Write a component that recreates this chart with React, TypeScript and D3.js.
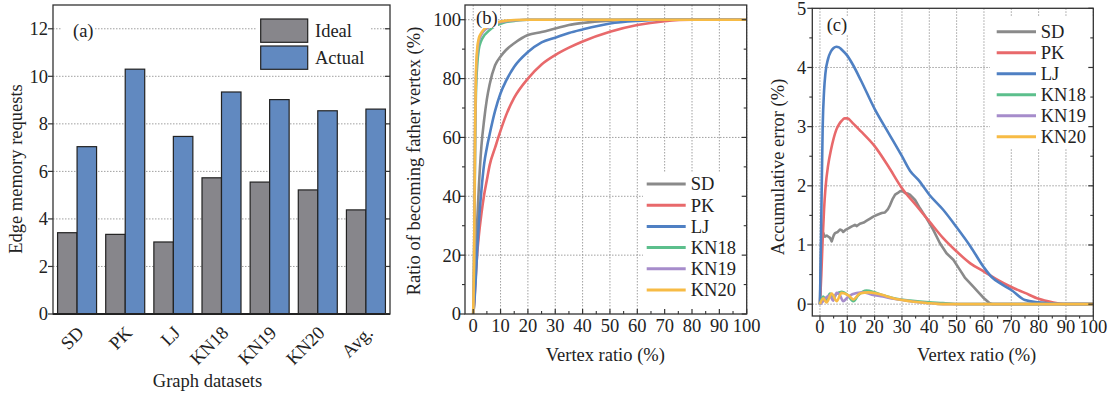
import React from "react";
import * as d3 from "d3";

// ---------- Panel (a) data ----------
const categories = ["SD", "PK", "LJ", "KN18", "KN19", "KN20", "Avg."];
const idealValues = [3.42, 3.35, 3.03, 5.73, 5.55, 5.22, 4.38];
const actualValues = [7.04, 10.3, 7.47, 9.34, 9.02, 8.55, 8.62];
const seriesA = ["Ideal", "Actual"];
const ticksA = [0, 2, 4, 6, 8, 10, 12];

// ---------- Panel (b) data ----------
const bX = [0, 0.3, 0.5, 0.7, 1, 1.5, 2, 3, 4, 5, 6, 8, 10, 12, 15, 20, 25, 30, 35, 40, 50, 60, 70, 80, 90, 100];
const bSD = [0, 4, 8, 12, 19, 32, 42, 57, 66, 73, 78, 84.5, 87.5, 89.7, 92, 94.8, 95.8, 97, 98.2, 98.9, 99.7, 100, 100, 100, 100, 100];
const bPK = [0, 3, 6, 9, 14, 21, 26, 34, 40.5, 45.5, 50.5, 56.5, 62.3, 67.5, 73.5, 80, 84.8, 88, 90.5, 92.6, 95.9, 98.2, 99.5, 100, 100, 100];
const bLJ = [0, 2.5, 5, 8, 13, 22, 30, 42, 51, 56.5, 61, 69, 75, 79.2, 84, 89, 92.3, 93.9, 95.5, 96.7, 98.7, 99.6, 100, 100, 100, 100];
const bKN18 = [0, 15, 35, 58, 75, 85, 89.7, 93, 94.6, 95.6, 96.5, 97.8, 98.6, 99.2, 99.6, 100, 100, 100, 100, 100, 100, 100, 100, 100, 100, 100];
const bKN19 = [0, 17, 38, 62, 80, 89, 92.5, 95, 96.3, 97, 97.6, 98.5, 99.1, 99.5, 99.8, 100, 100, 100, 100, 100, 100, 100, 100, 100, 100, 100];
const bKN20 = [0, 18, 40, 64, 82, 90.5, 93.5, 95.6, 96.8, 97.5, 98.1, 98.9, 99.4, 99.7, 99.9, 100, 100, 100, 100, 100, 100, 100, 100, 100, 100, 100];

// ---------- Panel (c) data ----------
const cSDx = [0, 0.6, 1.2, 1.8, 2.5, 3.1, 3.7, 4.3, 5, 5.5, 6.5, 7.3, 8, 8.5, 9.5, 10.4, 11.5, 12.8, 13.5, 14.6, 16, 17.1, 18.5, 19.5, 21, 22.6, 23.8, 24.8, 25.6, 26.5, 27.5, 28.5, 29.3, 30.2, 31.1, 32, 32.9, 34.8, 36.6, 39, 41.5, 43.9, 46.3, 48.8, 51.2, 53, 56, 58, 60, 62, 63, 100];
const cSDy = [0, 1.28, 1.2, 1.14, 1.16, 1.14, 1.12, 1.06, 1.16, 1.2, 1.22, 1.26, 1.25, 1.22, 1.26, 1.28, 1.31, 1.34, 1.32, 1.36, 1.38, 1.41, 1.45, 1.48, 1.51, 1.54, 1.55, 1.6, 1.67, 1.77, 1.85, 1.88, 1.91, 1.91, 1.88, 1.87, 1.85, 1.76, 1.62, 1.45, 1.25, 1.03, 0.86, 0.75, 0.58, 0.45, 0.3, 0.2, 0.1, 0.02, 0, 0];
const cPKx = [0, 0.5, 1, 1.5, 2, 3, 4, 5, 6, 7, 8, 9, 10, 12, 15, 20, 25, 30, 35, 40, 45, 50, 55, 60, 65, 70, 75, 80, 85, 88, 90, 100];
const cPKy = [0, 0.5, 1.1, 1.6, 1.95, 2.35, 2.6, 2.8, 2.95, 3.04, 3.1, 3.14, 3.14, 3.06, 2.92, 2.67, 2.33, 1.96, 1.68, 1.4, 1.12, 0.89, 0.69, 0.55, 0.41, 0.29, 0.19, 0.09, 0.03, 0.005, 0, 0];
const cLJx = [0, 0.5, 1, 1.5, 2, 3, 4, 5, 6, 7, 8, 10, 12, 15, 20, 25, 30, 33, 36, 40, 45, 50, 55, 60, 63, 66, 70, 75, 80, 85, 90, 100];
const cLJy = [0, 1.5, 3.0, 3.6, 3.9, 4.15, 4.27, 4.33, 4.35, 4.34, 4.3, 4.2, 4.05, 3.78, 3.3, 2.9, 2.5, 2.25, 2.1, 1.85, 1.6, 1.3, 0.98, 0.62, 0.45, 0.35, 0.24, 0.07, 0.03, 0.01, 0, 0];
const cKN18x = [0, 1.2, 2.2, 3.7, 5, 6, 7.9, 10, 12.2, 14, 17, 20, 23, 27, 33, 40, 45, 51, 100];
const cKN18y = [0, 0.13, 0.06, 0.18, 0.12, 0.17, 0.21, 0.16, 0.05, 0.15, 0.23, 0.2, 0.15, 0.1, 0.06, 0.03, 0.02, 0, 0];
const cKN19x = [0, 1.2, 2.4, 3.7, 4.8, 6.1, 7.2, 8.5, 10.4, 13.4, 15.9, 19, 23, 27, 33, 39, 45, 100];
const cKN19y = [0, 0.05, 0.12, 0.14, 0.06, 0.19, 0.16, 0.05, 0.13, 0.19, 0.2, 0.16, 0.13, 0.09, 0.05, 0.02, 0, 0];
const cKN20x = [0, 1.2, 2.4, 4.3, 6.1, 7.9, 10.4, 12.2, 14.6, 17.7, 20.7, 24, 26.8, 33, 39, 45, 100];
const cKN20y = [0, 0.1, 0.03, 0.18, 0.05, 0.19, 0.15, 0.08, 0.18, 0.2, 0.18, 0.14, 0.1, 0.05, 0.02, 0, 0];

const lineNames = ["SD", "PK", "LJ", "KN18", "KN19", "KN20"];
const xTicksBC = [0, 10, 20, 30, 40, 50, 60, 70, 80, 90, 100];
const xMinorBC = [5, 15, 25, 35, 45, 55, 65, 75, 85, 95];
const yTicksB = [0, 20, 40, 60, 80, 100];
const yMinorB = [10, 30, 50, 70, 90];
const yTicksC = [0, 1, 2, 3, 4, 5];
const yMinorC = [0.5, 1.5, 2.5, 3.5, 4.5];

const COLORS: Record<string, string> = {
  SD: "#8a8a8a",
  PK: "#e8696b",
  LJ: "#4f80c3",
  KN18: "#5cbf8c",
  KN19: "#a68ccb",
  KN20: "#f7bb45",
};
const BAR_COLORS: Record<string, string> = { Ideal: "#87868b", Actual: "#6189c0" };

const FONT = "Liberation Serif, Times New Roman, Times, serif";
const FS = 18.5;
const FRAME = "#333";
const GRID = "#a0a0a0";

function zip(xs: number[], ys: number[]): [number, number][] {
  return xs.map((x, i) => [x, ys[i]]);
}

export default function App() {
  // ---------- Panel (a) ----------
  const aL = 53, aR = 390, aT = 5, aB = 314;
  const xA = d3.scaleBand<string>().domain(categories).range([aL, aR]).paddingInner(0.19).paddingOuter(0.095);
  const xAin = d3.scaleBand<string>().domain(seriesA).range([0, xA.bandwidth()]);
  const yA = d3.scaleLinear().domain([0, 13]).range([aB, aT]);

  // ---------- Panel (b) ----------
  const bL = 465, bR = 746.7, bT = 5, bBt = 314;
  const xB = d3.scaleLinear().domain([-3, 100]).range([bL, bR]);
  const yB = d3.scaleLinear().domain([0, 105]).range([bBt, bT]);
  const lineB = d3.line<[number, number]>().x((d) => xB(d[0])).y((d) => yB(d[1])).curve(d3.curveMonotoneX);
  const bSeries: Record<string, number[]> = { SD: bSD, PK: bPK, LJ: bLJ, KN18: bKN18, KN19: bKN19, KN20: bKN20 };

  // ---------- Panel (c) ----------
  const cL = 812.3, cR = 1093.3, cT = 8.3, cBt = 316;
  const xC = d3.scaleLinear().domain([-2.8, 100]).range([cL, cR]);
  const yC = d3.scaleLinear().domain([-0.2, 5]).range([cBt, cT]);
  const lineCm = d3.line<[number, number]>().x((d) => xC(d[0])).y((d) => yC(d[1])).curve(d3.curveMonotoneX);
  const lineCl = d3.line<[number, number]>().x((d) => xC(d[0])).y((d) => yC(d[1]));
  const cSeries: Record<string, [number, number][]> = {
    SD: zip(cSDx, cSDy),
    PK: zip(cPKx, cPKy),
    LJ: zip(cLJx, cLJy),
    KN18: zip(cKN18x, cKN18y),
    KN19: zip(cKN19x, cKN19y),
    KN20: zip(cKN20x, cKN20y),
  };

  const txt = { style: { fontFamily: FONT, fontSize: FS }, fill: "#222" } as const;

  return (
    <svg width={1117} height={396} style={{ position: "absolute", left: 0, top: 0, background: "#fff", fontFamily: FONT }}>
      <defs>
        <clipPath id="clipB"><rect x={bL} y={bT} width={bR - bL} height={bBt - bT} /></clipPath>
        <clipPath id="clipC"><rect x={cL} y={cT} width={cR - cL} height={cBt - cT} /></clipPath>
      </defs>
      <rect width={1117} height={396} fill="#fff" />

      {/* ================= Panel (a) ================= */}
      <g>
        {ticksA.filter((t) => t > 0).map((t) => (
          <line key={"ga" + t} x1={aL} x2={aR} y1={yA(t)} y2={yA(t)} stroke={GRID} strokeWidth={1} strokeDasharray="1.5,1.5" />
        ))}
        <rect x={257} y={14} width={113} height={58} fill="#fff" />
        <rect x={62} y={20} width={33} height={20} fill="#fff" />
        {categories.map((c, i) => (
          <g key={"bars" + c}>
            <rect x={(xA(c) as number) + (xAin("Ideal") as number)} y={yA(idealValues[i])} width={xAin.bandwidth()} height={yA(0) - yA(idealValues[i])} fill={BAR_COLORS.Ideal} stroke="#222" strokeWidth={1.2} />
            <rect x={(xA(c) as number) + (xAin("Actual") as number)} y={yA(actualValues[i])} width={xAin.bandwidth()} height={yA(0) - yA(actualValues[i])} fill={BAR_COLORS.Actual} stroke="#222" strokeWidth={1.2} />
          </g>
        ))}
        <rect x={aL} y={aT} width={aR - aL} height={aB - aT} fill="none" stroke={FRAME} strokeWidth={1.3} />
        <line x1={aL} x2={aR} y1={aB} y2={aB} stroke="#222" strokeWidth={2} />
        {ticksA.map((t) => (
          <g key={"ta" + t}>
            <line x1={aL - 5} x2={aL} y1={yA(t)} y2={yA(t)} stroke={FRAME} strokeWidth={1.2} />
            <line x1={aR - 5} x2={aR} y1={yA(t)} y2={yA(t)} stroke={FRAME} strokeWidth={1.2} />
            <text x={aL - 5} y={yA(t)} dy="0.35em" textAnchor="end" {...txt}>{t}</text>
          </g>
        ))}
        {categories.map((c) => (
          <text key={"xl" + c} transform={`translate(${(xA(c) as number) + xA.bandwidth() / 2 + 8},334) rotate(-45)`} textAnchor="end" {...txt}>{c}</text>
        ))}
        <text x={73} y={37} {...txt}>(a)</text>
        {seriesA.map((s, i) => (
          <g key={"lga" + s}>
            <rect x={260.7} y={19 + i * 27} width={47} height={23.3} fill={BAR_COLORS[s]} stroke="#222" strokeWidth={1.2} />
            <text x={315} y={19 + i * 27 + 11.6} dy="0.35em" {...txt}>{s}</text>
          </g>
        ))}
        <text transform="translate(22,169) rotate(-90)" textAnchor="middle" {...txt}>Edge memory requests</text>
        <text x={207.5} y={387} textAnchor="middle" {...txt}>Graph datasets</text>
      </g>

      {/* ================= Panel (b) ================= */}
      <g>
        {xTicksBC.map((t) => (
          <line key={"gbx" + t} x1={xB(t)} x2={xB(t)} y1={bT} y2={bBt} stroke={GRID} strokeWidth={1} strokeDasharray="1.5,1.5" />
        ))}
        {yTicksB.filter((t) => t > 0).map((t) => (
          <line key={"gby" + t} x1={bL} x2={bR} y1={yB(t)} y2={yB(t)} stroke={GRID} strokeWidth={1} strokeDasharray="1.5,1.5" />
        ))}
        <rect x={643} y={172} width={bR - 643} height={bBt - 172} fill="#fff" />
        <g clipPath="url(#clipB)">
          {lineNames.map((n) => (
            <path key={"lb" + n} d={lineB(zip(bX, bSeries[n])) as string} fill="none" stroke={COLORS[n]} strokeWidth={2.6} strokeLinejoin="round" />
          ))}
        </g>
        <rect x={bL} y={bT} width={bR - bL} height={bBt - bT} fill="none" stroke={FRAME} strokeWidth={1.3} />
        {yTicksB.map((t) => (
          <g key={"tby" + t}>
            <line x1={bL - 5} x2={bL} y1={yB(t)} y2={yB(t)} stroke={FRAME} strokeWidth={1.2} />
            <line x1={bR - 5} x2={bR} y1={yB(t)} y2={yB(t)} stroke={FRAME} strokeWidth={1.2} />
            <text x={bL - 4} y={yB(t)} dy="0.35em" textAnchor="end" {...txt}>{t}</text>
          </g>
        ))}
        {yMinorB.map((t) => (
          <g key={"tbym" + t}>
            <line x1={bL - 3} x2={bL} y1={yB(t)} y2={yB(t)} stroke={FRAME} strokeWidth={1.1} />
            <line x1={bR - 3} x2={bR} y1={yB(t)} y2={yB(t)} stroke={FRAME} strokeWidth={1.1} />
          </g>
        ))}
        {xTicksBC.map((t) => (
          <g key={"tbx" + t}>
            <line x1={xB(t)} x2={xB(t)} y1={bBt} y2={bBt - 5} stroke={FRAME} strokeWidth={1.2} />
            <text x={xB(t)} y={331.5} textAnchor="middle" {...txt}>{t}</text>
          </g>
        ))}
        {xMinorBC.map((t) => (
          <line key={"tbxm" + t} x1={xB(t)} x2={xB(t)} y1={bBt} y2={bBt - 3} stroke={FRAME} strokeWidth={1.1} />
        ))}
        <rect x={476} y={11} width={22} height={17} fill="#fff" />
        <text x={476} y={24} {...txt}>(b)</text>
        {lineNames.map((n, i) => (
          <g key={"lgb" + n}>
            <line x1={646.7} x2={685.7} y1={184 + i * 21.2} y2={184 + i * 21.2} stroke={COLORS[n]} strokeWidth={3} />
            <text x={690.7} y={184 + i * 21.2} dy="0.35em" {...txt}>{n}</text>
          </g>
        ))}
        <text transform="translate(420,161) rotate(-90)" textAnchor="middle" {...txt}>Ratio of becoming father vertex (%)</text>
        <text x={605.3} y={360.5} textAnchor="middle" {...txt}>Vertex ratio (%)</text>
      </g>

      {/* ================= Panel (c) ================= */}
      <g>
        {xTicksBC.map((t) => (
          <line key={"gcx" + t} x1={xC(t)} x2={xC(t)} y1={cT} y2={cBt} stroke={GRID} strokeWidth={1} strokeDasharray="1.5,1.5" />
        ))}
        {yTicksC.filter((t) => t < 5).map((t) => (
          <line key={"gcy" + t} x1={cL} x2={cR} y1={yC(t)} y2={yC(t)} stroke={GRID} strokeWidth={1} strokeDasharray="1.5,1.5" />
        ))}
        <rect x={990} y={16} width={cR - 990} height={132} fill="#fff" />
        <rect x={826} y={17} width={23} height={18} fill="#fff" />
        <g clipPath="url(#clipC)">
          {lineNames.map((n) => (
            <path key={"lc" + n} d={(n === "SD" ? lineCl : lineCm)(cSeries[n]) as string} fill="none" stroke={COLORS[n]} strokeWidth={2.6} strokeLinejoin="round" />
          ))}
        </g>
        <rect x={cL} y={cT} width={cR - cL} height={cBt - cT} fill="none" stroke={FRAME} strokeWidth={1.3} />
        {yTicksC.map((t) => (
          <g key={"tcy" + t}>
            <line x1={cL - 5} x2={cL} y1={yC(t)} y2={yC(t)} stroke={FRAME} strokeWidth={1.2} />
            <line x1={cR - 5} x2={cR} y1={yC(t)} y2={yC(t)} stroke={FRAME} strokeWidth={1.2} />
            <text x={cL - 6} y={yC(t)} dy="0.35em" textAnchor="end" {...txt}>{t}</text>
          </g>
        ))}
        {yMinorC.map((t) => (
          <g key={"tcym" + t}>
            <line x1={cL - 3} x2={cL} y1={yC(t)} y2={yC(t)} stroke={FRAME} strokeWidth={1.1} />
            <line x1={cR - 3} x2={cR} y1={yC(t)} y2={yC(t)} stroke={FRAME} strokeWidth={1.1} />
          </g>
        ))}
        {xTicksBC.map((t) => (
          <g key={"tcx" + t}>
            <line x1={xC(t)} x2={xC(t)} y1={cBt} y2={cBt + 4} stroke={FRAME} strokeWidth={1.2} />
            <text x={xC(t)} y={333} textAnchor="middle" {...txt}>{t}</text>
          </g>
        ))}
        {xMinorBC.map((t) => (
          <line key={"tcxm" + t} x1={xC(t)} x2={xC(t)} y1={cBt} y2={cBt + 2.5} stroke={FRAME} strokeWidth={1.1} />
        ))}
        <text x={826.7} y={30.5} {...txt}>(c)</text>
        {lineNames.map((n, i) => (
          <g key={"lgc" + n}>
            <line x1={996.7} x2={1036} y1={31.7 + i * 21} y2={31.7 + i * 21} stroke={COLORS[n]} strokeWidth={3} />
            <text x={1040.7} y={31.7 + i * 21} dy="0.35em" {...txt}>{n}</text>
          </g>
        ))}
        <text transform="translate(784,167) rotate(-90)" textAnchor="middle" {...txt}>Accumulative error (%)</text>
        <text x={976.7} y={360.5} textAnchor="middle" {...txt}>Vertex ratio (%)</text>
      </g>
    </svg>
  );
}
